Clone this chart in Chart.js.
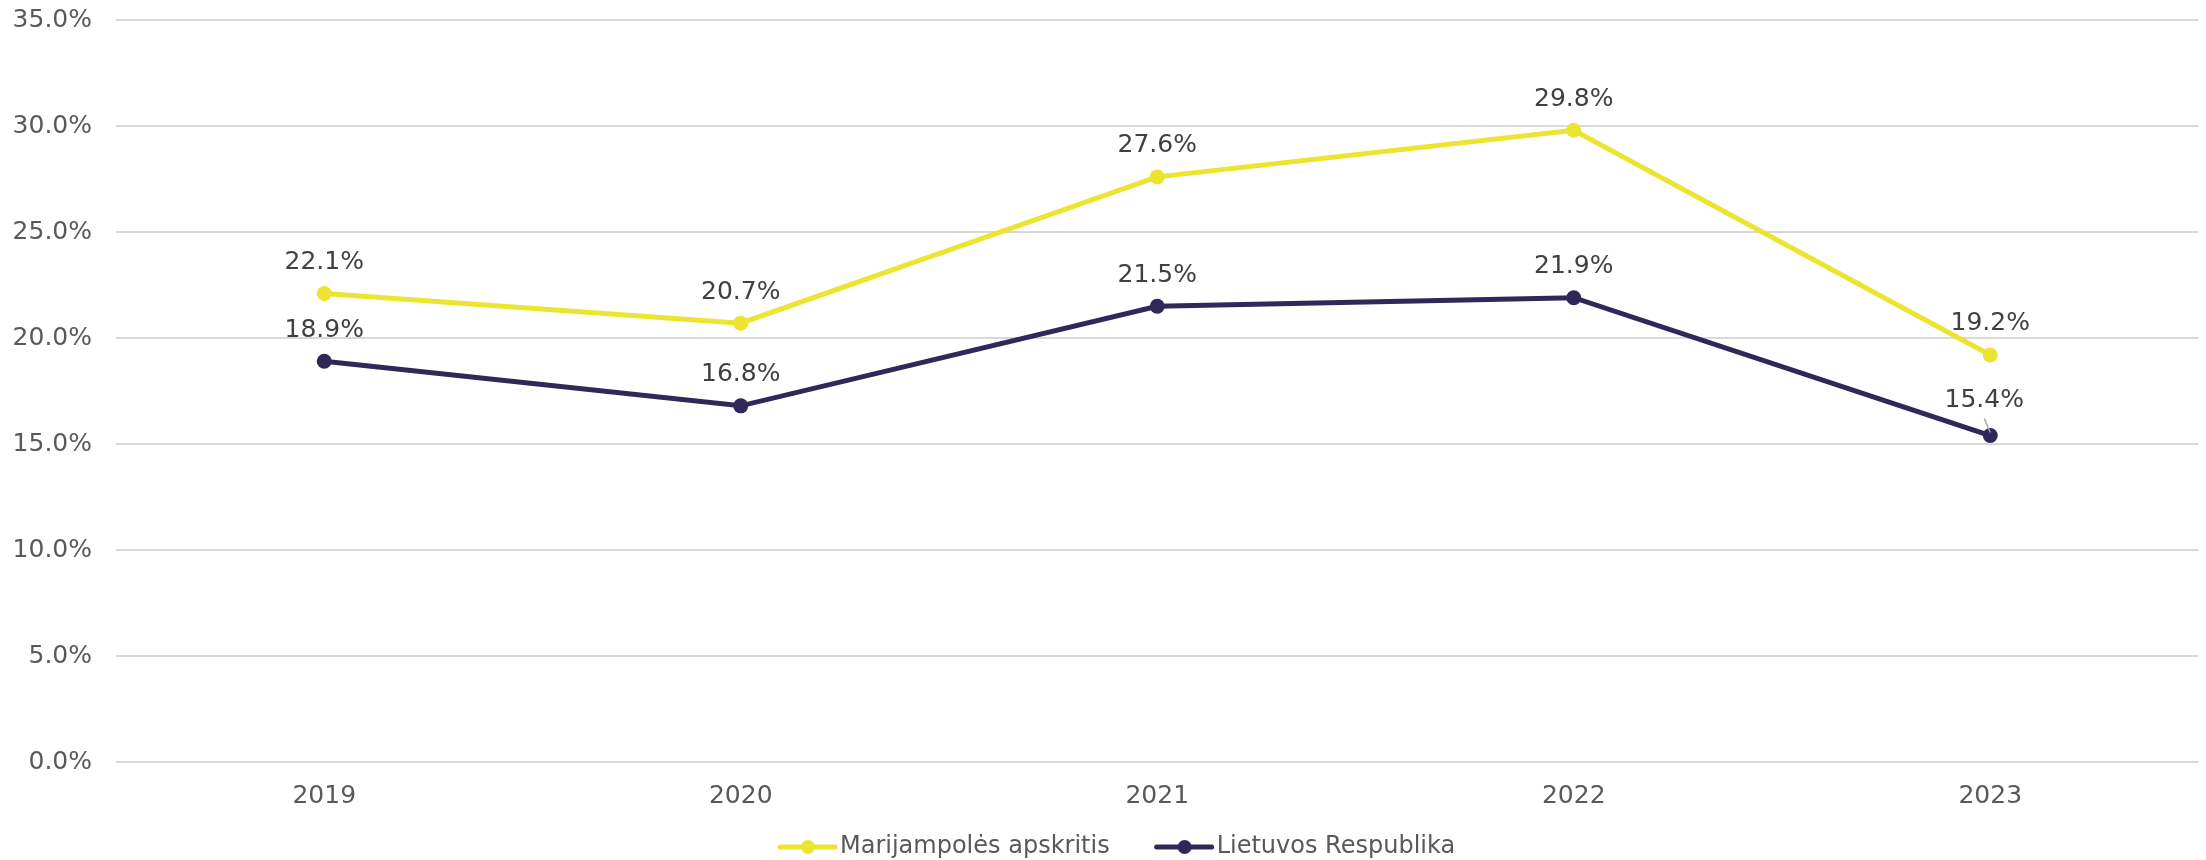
<!DOCTYPE html>
<html lang="lt">
<head>
    <meta charset="UTF-8">
    <title>Marijampolės apskritis</title>
    <script src="https://cdn.jsdelivr.net/npm/chart.js"></script>
    <style>
        html, body { margin: 0; padding: 0; background: #fff; }
        #wrap { width: 2206px; height: 860px; }
    </style>
</head>
<body>
    <div id="wrap"><canvas id="chart"></canvas></div>

    <script>
        const years = ['2019', '2020', '2021', '2022', '2023'];
        const marijampole = [22.1, 20.7, 27.6, 29.8, 19.2];
        const lietuva = [18.9, 16.8, 21.5, 21.9, 15.4];
        const seriesNames = ['Marijampolės apskritis', 'Lietuvos Respublika'];
        const seriesColors = ['#ede331', '#2f2858'];

        const FONT = 'DejaVu Sans, Verdana, sans-serif';

        // value labels above each point
        const valueLabels = {
            id: 'valueLabels',
            afterDatasetsDraw(chart) {
                const ctx = chart.ctx;
                ctx.save();
                ctx.font = '25px ' + FONT;
                ctx.fillStyle = '#404040';
                ctx.textAlign = 'center';
                ctx.textBaseline = 'middle';
                chart.data.datasets.forEach((ds, i) => {
                    chart.getDatasetMeta(i).data.forEach((pt, j) => {
                        let x = pt.x, y = pt.y - 31;
                        const last = i === 1 && j === ds.data.length - 1;
                        if (last) {
                            x -= 6; y -= 4;
                            ctx.strokeStyle = '#a6a6a6';
                            ctx.lineWidth = 1.5;
                            ctx.beginPath();
                            ctx.moveTo(pt.x - 6, pt.y - 17);
                            ctx.lineTo(pt.x, pt.y - 3);
                            ctx.stroke();
                        }
                        ctx.fillText(ds.data[j].toFixed(1) + '%', x, y);
                    });
                });
                ctx.restore();
            }
        };

        // legend: short line with a marker in the middle
        const lineLegend = {
            id: 'lineLegend',
            afterDraw(chart) {
                const ctx = chart.ctx;
                const y = 847;
                ctx.save();
                ctx.font = '24px ' + FONT;
                ctx.textBaseline = 'middle';
                let x = 780;
                chart.data.datasets.forEach(ds => {
                    ctx.strokeStyle = ds.borderColor;
                    ctx.fillStyle = ds.borderColor;
                    ctx.lineWidth = 5;
                    ctx.lineCap = 'round';
                    ctx.beginPath();
                    ctx.moveTo(x, y);
                    ctx.lineTo(x + 55, y);
                    ctx.stroke();
                    ctx.beginPath();
                    ctx.arc(x + 28, y, 7, 0, Math.PI * 2);
                    ctx.fill();
                    const tx = x + 60;
                    ctx.fillStyle = '#595959';
                    ctx.fillText(ds.label, tx, y);
                    x = tx + ctx.measureText(ds.label).width + 47;
                });
                ctx.restore();
            }
        };

        new Chart(document.getElementById('chart'), {
            type: 'line',
            data: {
                labels: years,
                datasets: [marijampole, lietuva].map((vals, i) => ({
                    label: seriesNames[i],
                    data: vals,
                    borderColor: seriesColors[i],
                    backgroundColor: seriesColors[i],
                    borderWidth: 5,
                    pointRadius: 7.5,
                    pointHoverRadius: 7.5,
                    pointBorderWidth: 0,
                    tension: 0
                }))
            },
            options: {
                responsive: true,
                maintainAspectRatio: false,
                animation: false,
                layout: { padding: { left: 0, right: 0, top: 0, bottom: 30 } },
                plugins: {
                    legend: { display: false },
                    tooltip: { enabled: false }
                },
                scales: {
                    x: {
                        offset: true,
                        grid: { display: false, drawTicks: false },
                        border: { display: false },
                        ticks: { color: '#595959', font: { family: FONT, size: 25 }, padding: 19 }
                    },
                    y: {
                        min: 0,
                        max: 35,
                        border: { display: false },
                        grid: { color: '#d9d9d9', lineWidth: 2, drawTicks: false },
                        afterFit: axis => {
                            axis.width = 116;
                            axis.paddingTop = 20;
                            axis.paddingBottom = 10;
                        },
                        ticks: {
                            stepSize: 5,
                            color: '#595959',
                            font: { family: FONT, size: 25 },
                            padding: 24,
                            callback: v => v.toFixed(1) + '%'
                        }
                    }
                }
            },
            plugins: [valueLabels, lineLegend]
        });
    </script>
</body>
</html>
